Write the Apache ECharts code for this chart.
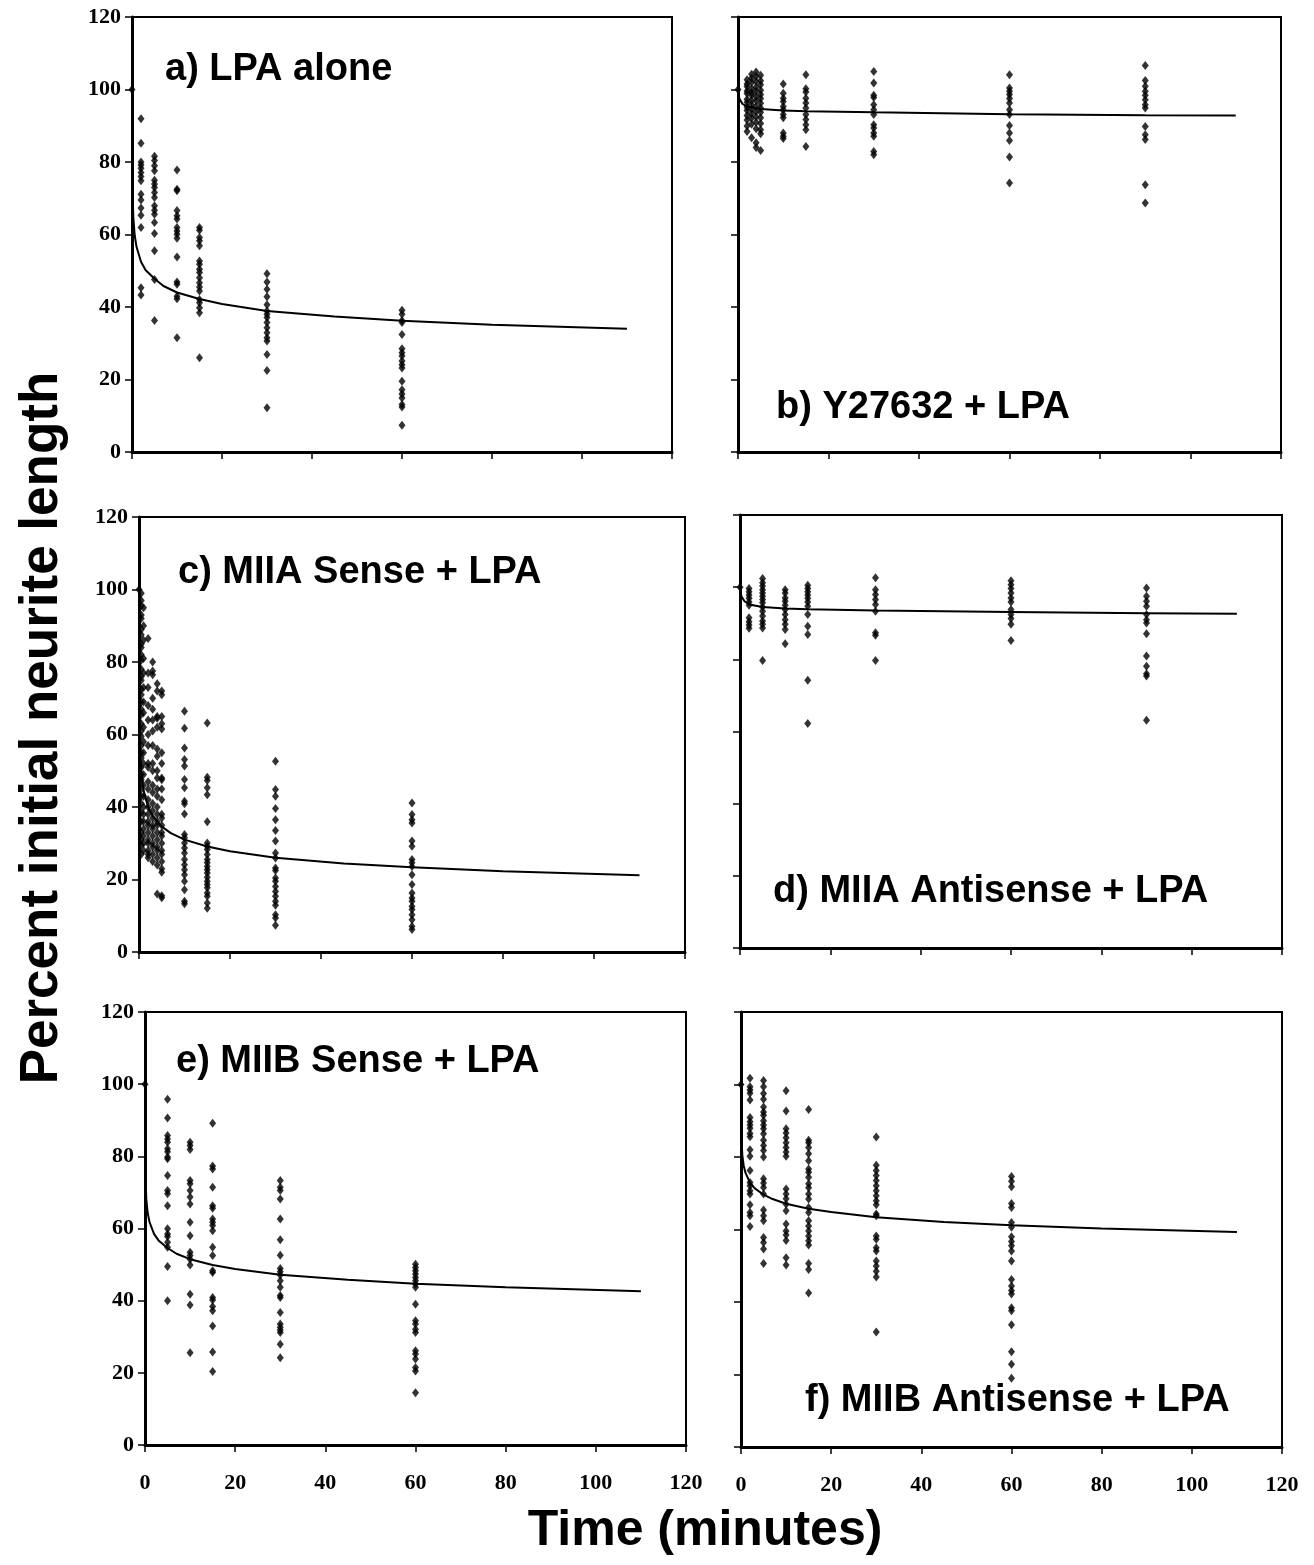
<!DOCTYPE html>
<html>
<head>
<meta charset="utf-8">
<title>Neurite retraction</title>
<script src="https://cdn.jsdelivr.net/npm/echarts@6/dist/echarts.min.js"></script>
<style>
html, body { margin: 0; padding: 0; background: #fff; }
#main { width: 1314px; height: 1565px; }
</style>
</head>
<body>
<div id="main"></div>
<script>
// tick labels
var tickValues = [0, 20, 40, 60, 80, 100, 120];

// panel labels
var panelNames = ['a) LPA alone', 'b) Y27632 + LPA', 'c) MIIA Sense + LPA',
  'd) MIIA Antisense + LPA', 'e) MIIB Sense + LPA', 'f) MIIB Antisense + LPA'];

// a) LPA alone : time points and measured values
var timesA = [0, 2, 5, 10, 15, 30, 60];
var valuesA = [
  [100],
  [91.9, 85.2, 80.0, 79.2, 78.3, 77.1, 76.0, 74.8, 71.1, 69.5, 67.3, 65.3, 61.9, 45.3, 43.3],
  [81.6, 80.4, 79.0, 77.6, 75.0, 73.9, 73.0, 71.6, 70.2, 67.9, 66.7, 65.6, 63.3, 60.3, 55.5, 47.6, 36.3],
  [77.8, 72.5, 72.1, 66.6, 65.2, 64.3, 61.9, 61.0, 60.1, 59.0, 53.8, 46.9, 46.3, 43.0, 42.3, 31.5],
  [61.9, 61.2, 59.2, 58.3, 56.9, 52.7, 51.8, 50.4, 49.5, 48.1, 46.7, 45.5, 44.4, 42.1, 41.2, 39.8, 38.4, 26.0],
  [49.2, 46.9, 44.9, 42.8, 40.6, 38.9, 38.0, 37.1, 35.7, 34.3, 32.9, 31.5, 30.6, 26.9, 22.5, 12.2],
  [39.1, 38.0, 36.3, 35.7, 32.4, 28.5, 27.4, 26.5, 25.1, 24.1, 23.2, 19.5, 17.2, 16.0, 14.9, 13.1, 12.4, 7.4]
];
var curveA = [[0, 100], [0.01, 93.5], [0.03, 83], [0.1, 72.7], [0.3, 64.5], [0.6, 59.8], [1, 56.6], [2, 52.5],
  [3, 50.2], [5, 47.8], [7, 45.8], [10, 44], [15, 42.2], [20, 40.8], [30, 38.9], [45, 37.4], [60, 36.2],
  [80, 35.1], [110, 34]];

// b) Y27632 + LPA
var timesB = [0, 2, 3, 4, 5, 10, 15, 30, 60, 90];
var valuesB = [
  [100],
  [102.7, 101.5, 100.8, 99.6, 98.9, 97.3, 96.5, 95.1, 94.2, 92.8, 91.6, 89.9, 88.4],
  [104.2, 103.1, 101.9, 100.2, 99.1, 98.4, 97.0, 95.8, 94.6, 93.3, 92.1, 90.4, 86.7],
  [104.8, 103.6, 102.2, 100.7, 99.5, 98.1, 96.9, 95.3, 94.0, 92.5, 91.0, 89.2, 85.3, 84.0],
  [103.9, 102.4, 101.3, 99.8, 98.6, 97.5, 96.2, 94.9, 93.7, 92.2, 90.6, 88.9, 87.8, 83.2],
  [101.5, 99.0, 97.6, 96.7, 95.3, 94.4, 93.1, 92.2, 88.0, 87.1, 86.5],
  [104.1, 100.2, 99.3, 97.6, 96.3, 94.9, 93.1, 91.7, 90.3, 88.9, 84.3],
  [105.0, 101.8, 98.4, 97.8, 95.8, 94.4, 93.1, 90.3, 89.4, 88.0, 87.1, 82.9, 82.0],
  [104.1, 100.4, 99.5, 98.6, 97.5, 96.3, 94.4, 93.1, 90.1, 88.0, 85.9, 81.4, 74.2],
  [106.6, 102.5, 100.9, 99.5, 98.4, 97.2, 95.8, 94.9, 89.8, 87.5, 86.2, 73.7, 68.7]
];
var curveB = [[0, 100], [0.3, 97.5], [1, 96], [2, 95.3], [5, 94.6], [10, 94.2], [15, 94], [30, 93.7],
  [60, 93.2], [90, 92.9], [110, 92.8]];

// c) MIIA Sense + LPA
var timesC = [0, 0.5, 1, 2, 3, 4, 5, 10, 15, 30, 60];
var valuesC = [
  [100],
  [99, 97, 95.5, 93, 92, 89, 87.5, 85, 84, 82, 80.5, 78, 76, 75, 72.5, 71, 69, 67, 65.5, 63, 61, 59.5, 57, 55,
   53.5, 51, 49, 47.5, 45, 43, 41, 38.5, 36, 33, 31, 29.5, 27],
  [95, 90, 86, 81, 77, 73, 69, 66, 62, 58, 55, 52, 49, 46, 43, 40, 38, 36, 34, 32, 30, 28],
  [86.5, 77, 73, 68, 64, 60, 57, 52, 51, 47, 45, 42, 40, 38, 36, 35, 33, 31, 30, 28, 27, 26],
  [80, 77.5, 76.5, 70, 67, 64, 61, 57, 52, 50, 46, 44, 41, 39, 37, 35, 34, 32, 30, 29, 27, 25],
  [74, 72, 65, 64.5, 62, 56, 54, 50, 48, 45, 43, 40, 38, 36, 35, 33, 31, 29, 28, 26, 24, 16],
  [72, 71, 65, 63, 61.5, 55, 52, 48, 47.5, 45, 42, 38, 37, 35, 33, 32, 30, 28, 27, 25, 23, 22, 15.5, 15],
  [66.4, 61.7, 56.3, 53.1, 51.3, 47.6, 45.3, 41.6, 40.9, 38.1, 32.4, 31.5, 30.1, 28.7, 27.3, 25.5, 24.1, 22.7,
   21.3, 19.5, 17.2, 14.0, 13.3],
  [63.2, 48.2, 47.3, 45.3, 43.4, 35.9, 30.1, 29.2, 28.3, 26.9, 25.5, 24.6, 23.6, 22.7, 21.8, 20.6, 19.5, 18.6,
   17.7, 16.3, 15.4, 13.5, 12.1],
  [52.6, 44.8, 43.0, 39.6, 36.5, 33.5, 30.6, 27.3, 25.9, 23.2, 22.5, 20.4, 19.5, 18.1, 16.7, 15.4, 14.0, 12.9,
   10.3, 9.4, 7.4],
  [41.1, 37.9, 36.5, 35.6, 30.6, 29.2, 25.5, 24.6, 23.6, 21.3, 18.6, 16.3, 14.9, 14.0, 12.6, 11.7, 10.3, 8.9,
   7.1, 6.2]
];
var curveC = [[0, 100], [0.02, 82.7], [0.1, 64.2], [0.3, 53.9], [0.6, 48.3], [1, 44.6], [2, 40], [3, 37.5],
  [5, 34.6], [7, 32.8], [10, 31], [15, 29.1], [20, 27.8], [30, 26], [45, 24.4], [60, 23.4], [80, 22.3],
  [110, 21.2]];

// d) MIIA Antisense + LPA
var timesD = [0, 2, 5, 10, 15, 30, 60, 90];
var valuesD = [
  [100],
  [99.6, 98.7, 97.8, 96.9, 95.9, 95.0, 91.5, 90.4, 89.5, 88.6],
  [102.4, 101.2, 100.3, 99.3, 98.4, 97.5, 96.6, 95.7, 94.5, 93.3, 92.0, 90.6, 89.7, 88.7, 79.7],
  [99.3, 98.4, 97.0, 96.1, 95.0, 93.8, 92.4, 91.0, 89.7, 88.3, 84.3],
  [100.5, 99.6, 98.7, 97.8, 96.9, 95.9, 94.7, 92.4, 89.2, 86.9, 74.2, 62.2],
  [102.6, 99.3, 98.0, 96.6, 95.2, 93.3, 87.4, 86.7, 79.7],
  [101.8, 100.7, 99.6, 98.4, 97.0, 95.9, 93.8, 92.4, 91.3, 89.7, 85.2],
  [99.8, 97.5, 96.1, 94.7, 92.4, 91.0, 90.1, 87.1, 80.9, 78.1, 76.0, 75.4, 63.1]
];
var curveD = [[0, 100], [0.3, 97.5], [1, 96.1], [2, 95.2], [5, 94.5], [10, 94.1], [15, 93.9], [30, 93.5],
  [60, 93.1], [90, 92.8], [110, 92.6]];

// e) MIIB Sense + LPA
var timesE = [0, 5, 10, 15, 30, 60];
var valuesE = [
  [100],
  [95.8, 90.6, 85.8, 84.8, 83.9, 82.1, 81.3, 79.8, 79.3, 74.7, 70.5, 69.6, 66.3, 59.9, 58.5, 57.8, 56.2, 54.8,
   49.5, 40.0],
  [83.9, 83.0, 81.9, 73.3, 72.4, 70.5, 68.7, 66.8, 61.7, 58.0, 53.4, 52.5, 51.5, 49.9, 41.8, 38.8, 25.6],
  [89.2, 77.3, 76.5, 71.4, 66.3, 65.6, 62.6, 61.7, 60.8, 59.4, 54.8, 52.5, 48.3, 47.8, 40.9, 40.2, 38.4, 37.2,
   33.0, 25.8, 20.4],
  [73.3, 71.4, 70.5, 68.2, 62.6, 56.9, 52.6, 48.9, 48.0, 47.1, 45.5, 43.7, 41.4, 40.9, 36.7, 33.5, 32.6, 31.9,
   31.2, 27.9, 24.2],
  [50.1, 49.2, 48.3, 47.4, 46.4, 45.5, 44.6, 43.7, 39.0, 34.4, 33.5, 32.1, 31.2, 26.1, 25.2, 23.8, 21.5, 20.5,
   14.5]
];
var curveE = [[0, 100], [0.005, 95], [0.02, 84], [0.1, 74.5], [0.3, 68], [0.6, 64.3], [1, 61.8], [2, 58.5],
  [3, 56.7], [5, 54.6], [7, 53], [10, 51.5], [15, 49.9], [20, 48.8], [30, 47.2], [45, 45.8], [60, 44.7],
  [80, 43.7], [110, 42.6]];

// f) MIIB Antisense + LPA
var timesF = [0, 2, 5, 10, 15, 30, 60];
var valuesF = [
  [100],
  [101.7, 99.4, 98.5, 97.6, 95.7, 90.9, 89.7, 88.8, 87.9, 86.5, 85.6, 82.0, 80.2, 76.3, 73.0, 72.1, 70.7, 69.8,
   66.8, 64.7, 63.8, 60.8],
  [101.1, 99.4, 97.5, 95.9, 93.8, 92.4, 91.5, 90.0, 88.8, 87.8, 86.4, 84.6, 83.2, 81.8, 80.0, 74.0, 72.8, 71.6,
   69.8, 65.4, 63.8, 62.4, 57.8, 56.4, 54.6, 50.6],
  [98.3, 92.7, 87.8, 86.6, 85.3, 83.9, 82.6, 81.4, 80.2, 71.2, 69.8, 68.5, 67.0, 65.2, 61.5, 59.6, 58.5, 57.0,
   52.2, 50.2],
  [93.1, 84.6, 83.9, 82.6, 80.9, 79.0, 76.7, 75.8, 74.4, 72.6, 71.5, 69.8, 68.4, 66.1, 64.7, 62.4, 61.0, 59.6,
   58.2, 56.9, 55.7, 50.6, 49.0, 42.5],
  [85.5, 77.7, 76.3, 74.9, 73.5, 72.1, 70.7, 69.3, 67.9, 66.8, 64.3, 63.8, 58.2, 57.3, 55.0, 54.1, 51.3, 49.9,
   48.5, 46.9, 31.7],
  [74.6, 73.3, 71.8, 67.2, 66.1, 61.9, 60.6, 58.0, 56.7, 55.5, 54.1, 51.3, 46.2, 44.4, 43.2, 42.2, 38.4, 37.6,
   33.7, 26.3, 22.8, 19.0]
];
var curveF = [[0, 100], [0.003, 100], [0.01, 95], [0.1, 85.1], [0.3, 80.4], [0.6, 77.6], [1, 75.6], [2, 72.9],
  [3, 71.4], [5, 69.6], [7, 68.4], [10, 67.1], [15, 65.7], [20, 64.8], [30, 63.4], [45, 62.1], [60, 61.2],
  [80, 60.3], [110, 59.3]];

var panels = [
  { times: timesA, values: valuesA, curve: curveA },
  { times: timesB, values: valuesB, curve: curveB },
  { times: timesC, values: valuesC, curve: curveC },
  { times: timesD, values: valuesD, curve: curveD },
  { times: timesE, values: valuesE, curve: curveE },
  { times: timesF, values: valuesF, curve: curveF }
];

// plot boxes (pixels)
var boxes = [
  { left: 132, top: 17, width: 540, height: 435 },
  { left: 738, top: 17, width: 543, height: 435 },
  { left: 139, top: 517, width: 546, height: 435 },
  { left: 740, top: 515, width: 542, height: 433 },
  { left: 145, top: 1012, width: 541, height: 433 },
  { left: 741, top: 1012, width: 541, height: 435 }
];
// label anchor for each panel name
var namePos = [[165, 69], [776, 407], [178, 572], [773, 891], [176, 1061], [805, 1400]];

var tickFont = { color: '#000', fontFamily: 'Liberation Serif', fontWeight: 'bold', fontSize: 22 };

function toPairs(times, values) {
  var out = [];
  times.forEach(function (t, i) {
    values[i].forEach(function (v) { out.push([t, v]); });
  });
  return out;
}

var grid = [], xAxis = [], yAxis = [], series = [], graphic = [];
boxes.forEach(function (b, i) {
  grid.push({ left: b.left, top: b.top, width: b.width, height: b.height,
    show: true, borderColor: '#000', borderWidth: 2, backgroundColor: '#fff' });
  xAxis.push({
    type: 'value', gridIndex: i, min: 0, max: 120, interval: 20,
    axisLine: { show: true, onZero: false, lineStyle: { color: '#000', width: 3 } },
    axisTick: { show: true, length: 7, lineStyle: { color: '#000', width: 1.5 } },
    axisLabel: Object.assign({ show: i >= 4, margin: 27, formatter: function (v) { return tickValues.indexOf(v) >= 0 ? v : ''; } }, tickFont),
    splitLine: { show: false }
  });
  yAxis.push({
    type: 'value', gridIndex: i, min: 0, max: 120, interval: 20,
    axisLine: { show: true, onZero: false, lineStyle: { color: '#000', width: 3 } },
    axisTick: { show: true, length: 7, lineStyle: { color: '#000', width: 1.5 } },
    axisLabel: Object.assign({ show: i % 2 === 0, margin: 11 }, tickFont),
    splitLine: { show: false }
  });
  var p = panels[i];
  series.push({
    type: 'line', xAxisIndex: i, yAxisIndex: i, data: p.curve, showSymbol: false,
    lineStyle: { color: '#000', width: 2 }, z: 3, silent: true
  });
  series.push({
    type: 'scatter', xAxisIndex: i, yAxisIndex: i, data: toPairs(p.times, p.values),
    symbol: 'diamond', symbolSize: [7, 9], itemStyle: { color: '#000' }, z: 4, silent: true
  });
  graphic.push({
    type: 'text', left: namePos[i][0], top: namePos[i][1] - 18, z: 10,
    style: { text: panelNames[i], fill: '#000', font: 'bold 38px "Liberation Sans", Arial, sans-serif' }
  });
});

graphic.push({
  type: 'text', x: 705, y: 1531, z: 10,
  style: { text: 'Time (minutes)', fill: '#000', align: 'center', verticalAlign: 'middle',
    font: 'bold 50px "Liberation Sans", Arial, sans-serif' }
});
graphic.push({
  type: 'text', x: 42, y: 728, rotation: Math.PI / 2, z: 10,
  style: { text: 'Percent initial neurite length', fill: '#000', align: 'center', verticalAlign: 'middle',
    font: 'bold 53px "Liberation Sans", Arial, sans-serif' }
});

var myChart = echarts.init(document.getElementById('main'), null, { renderer: 'canvas' });
myChart.setOption({
  backgroundColor: '#fff',
  animation: false,
  grid: grid,
  xAxis: xAxis,
  yAxis: yAxis,
  series: series,
  graphic: graphic
});
</script>
</body>
</html>
